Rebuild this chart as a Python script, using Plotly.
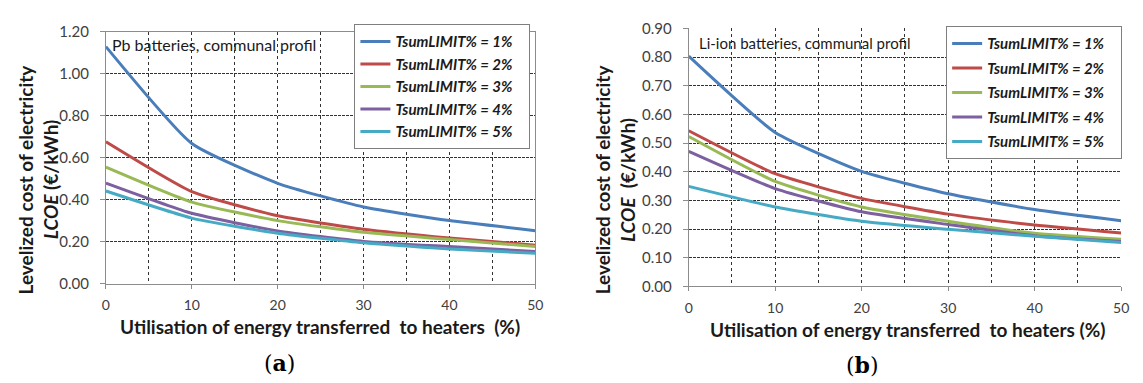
import plotly.graph_objects as go

# Share of surplus energy sent to heaters (%)
utilisation = [0, 10, 20, 30, 40, 50]

limit_labels = ["TsumLIMIT% = 1%", "TsumLIMIT% = 2%", "TsumLIMIT% = 3%",
                "TsumLIMIT% = 4%", "TsumLIMIT% = 5%"]

# LCOE (EUR/kWh), Pb batteries, communal profile
pb_limit_1 = [1.13, 0.668, 0.478, 0.365, 0.300, 0.252]
pb_limit_2 = [0.676, 0.438, 0.323, 0.259, 0.217, 0.183]
pb_limit_3 = [0.555, 0.388, 0.300, 0.244, 0.210, 0.176]
pb_limit_4 = [0.479, 0.335, 0.251, 0.201, 0.176, 0.153]
pb_limit_5 = [0.441, 0.312, 0.240, 0.194, 0.165, 0.144]

# LCOE (EUR/kWh), Li-ion batteries, communal profile
li_limit_1 = [0.803, 0.537, 0.401, 0.323, 0.268, 0.229]
li_limit_2 = [0.543, 0.393, 0.307, 0.252, 0.214, 0.186]
li_limit_3 = [0.523, 0.366, 0.277, 0.227, 0.185, 0.164]
li_limit_4 = [0.471, 0.341, 0.260, 0.216, 0.177, 0.157]
li_limit_5 = [0.349, 0.277, 0.227, 0.199, 0.175, 0.153]

pb_series = [pb_limit_1, pb_limit_2, pb_limit_3, pb_limit_4, pb_limit_5]
li_series = [li_limit_1, li_limit_2, li_limit_3, li_limit_4, li_limit_5]

x_ticks = [0, 10, 20, 30, 40, 50]
pb_y_ticks = [0.0, 0.2, 0.4, 0.6, 0.8, 1.0, 1.2]
li_y_ticks = [0.0, 0.1, 0.2, 0.3, 0.4, 0.5, 0.6, 0.7, 0.8, 0.9]

colors = ["#4A7EBB", "#BE4B48", "#98B954", "#7D60A0", "#46AAC5"]

W, H = 1143, 383
FONT = "Lato"
TICK_COLOR = "#404040"
TITLE_COLOR = "#1a1a1a"
PAD = "\u00a0\u00a0\u00a0"  # trailing room inside the legend box


def px_x(p):
    return p / W


def px_y(p):
    return (H - p) / H


fig = go.Figure()

for name, ys, c in zip(limit_labels, pb_series, colors):
    fig.add_trace(go.Scatter(
        x=utilisation, y=ys, mode="lines", xaxis="x", yaxis="y",
        line=dict(color=c, width=3, shape="spline", smoothing=0.5),
        name=f"<b><i>{name}</i></b>{PAD}", legend="legend",
    ))

for i, (name, ys, c) in enumerate(zip(limit_labels, li_series, colors)):
    fig.add_trace(go.Scatter(
        x=utilisation, y=ys, mode="lines", xaxis="x2", yaxis="y2",
        line=dict(color=c, width=3, shape="spline", smoothing=0.5),
        name=f"<b><i>{name}</i></b>{PAD}", legend="legend2",
        legendgroup=f"g{i}",
    ))

common_x = dict(
    range=[0, 50], tickmode="array", tickvals=x_ticks,
    showline=True, linecolor="#8c8c8c", linewidth=1,
    ticks="outside", ticklen=4, tickcolor="#8c8c8c",
    showgrid=True, gridcolor="#333333", griddash="dot", gridwidth=1,
    minor=dict(tick0=0, dtick=5, showgrid=True, gridcolor="#333333",
               griddash="dot", gridwidth=1),
    zeroline=False, ticklabelstandoff=5,
    tickfont=dict(family=FONT, size=14, color=TICK_COLOR),
)
common_y = dict(
    showline=True, linecolor="#8c8c8c", linewidth=1,
    ticks="outside", ticklen=5, tickcolor="#8c8c8c",
    showgrid=True, gridcolor="#333333", griddash="3px,1px", gridwidth=1,
    zeroline=False, tickformat=".2f", ticklabelstandoff=8,
    tickfont=dict(family=FONT, size=15, color=TICK_COLOR),
)

legend_font = dict(family=FONT, size=15, color=TITLE_COLOR)

fig.update_layout(
    width=W, height=H,
    margin=dict(l=0, r=0, t=0, b=0),
    paper_bgcolor="white", plot_bgcolor="white",
    xaxis=dict(domain=[px_x(103), px_x(537)], anchor="y", mirror=True, **common_x),
    yaxis=dict(domain=[px_y(287), px_y(23)], anchor="x", range=[0, 1.2],
               tickmode="array", tickvals=pb_y_ticks, mirror=True, **common_y),
    xaxis2=dict(domain=[px_x(692), px_x(1129)], anchor="y2", **common_x),
    yaxis2=dict(domain=[px_y(290), px_y(19.3)], anchor="x2", range=[0, 0.9],
                tickmode="array", tickvals=li_y_ticks, **common_y),
    legend=dict(
        x=px_x(532), xanchor="right", y=px_y(15), yanchor="top",
        bgcolor="white", bordercolor="#7f7f7f", borderwidth=1,
        font=legend_font,
    ),
    legend2=dict(
        x=px_x(1130), xanchor="right", y=px_y(17), yanchor="top",
        bgcolor="white", bordercolor="#7f7f7f", borderwidth=1,
        traceorder="grouped", tracegroupgap=2,
        font=legend_font,
    ),
    showlegend=True,
)

ann = []

# Panel captions inside the plot area
ann.append(dict(text="Pb batteries, communal profil", x=px_x(107), y=px_y(36),
                xref="paper", yref="paper", xanchor="left", yanchor="middle",
                showarrow=False, font=dict(family=FONT, size=16, color=TITLE_COLOR)))
ann.append(dict(text="Li-ion batteries, communal profil", x=px_x(700), y=px_y(35),
                xref="paper", yref="paper", xanchor="left", yanchor="middle",
                showarrow=False, font=dict(family=FONT, size=15, color=TITLE_COLOR)))

# Axis titles
title_font = dict(family=FONT, size=19, color=TITLE_COLOR)
ann.append(dict(text="<b>Levelized cost of electricity</b>", x=px_x(22), y=px_y(178),
                xref="paper", yref="paper", xanchor="center", yanchor="middle",
                textangle=-90, showarrow=False, font=title_font))
ann.append(dict(text="<b><i>LCOE</i> (€/kWh)</b>", x=px_x(47), y=px_y(178),
                xref="paper", yref="paper", xanchor="center", yanchor="middle",
                textangle=-90, showarrow=False, font=title_font))
ann.append(dict(text="<b>Levelized cost of electricity</b>", x=px_x(605), y=px_y(178),
                xref="paper", yref="paper", xanchor="center", yanchor="middle",
                textangle=-90, showarrow=False, font=title_font))
ann.append(dict(text="<b><i>LCOE</i>\u00a0 (€/kWh)</b>", x=px_x(630), y=px_y(178),
                xref="paper", yref="paper", xanchor="center", yanchor="middle",
                textangle=-90, showarrow=False, font=title_font))
ann.append(dict(text="<b>Utilisation of energy transferred\u00a0 to heaters\u00a0 (%)</b>",
                x=px_x(319), y=px_y(332), xref="paper", yref="paper",
                xanchor="center", yanchor="middle", showarrow=False, font=title_font))
ann.append(dict(text="<b>Utilisation of energy transferred\u00a0 to heaters (%)</b>",
                x=px_x(914), y=px_y(335), xref="paper", yref="paper",
                xanchor="center", yanchor="middle", showarrow=False, font=title_font))

# Sub-figure labels
label_font = dict(family="DejaVu Serif", size=22, color="black")
ann.append(dict(text="(<b>a</b>)", x=px_x(278), y=px_y(370), xref="paper", yref="paper",
                xanchor="center", yanchor="middle", showarrow=False, font=label_font))
ann.append(dict(text="(<b>b</b>)", x=px_x(868), y=px_y(372), xref="paper", yref="paper",
                xanchor="center", yanchor="middle", showarrow=False, font=label_font))

fig.update_layout(annotations=ann)

fig.write_html("out.html")
